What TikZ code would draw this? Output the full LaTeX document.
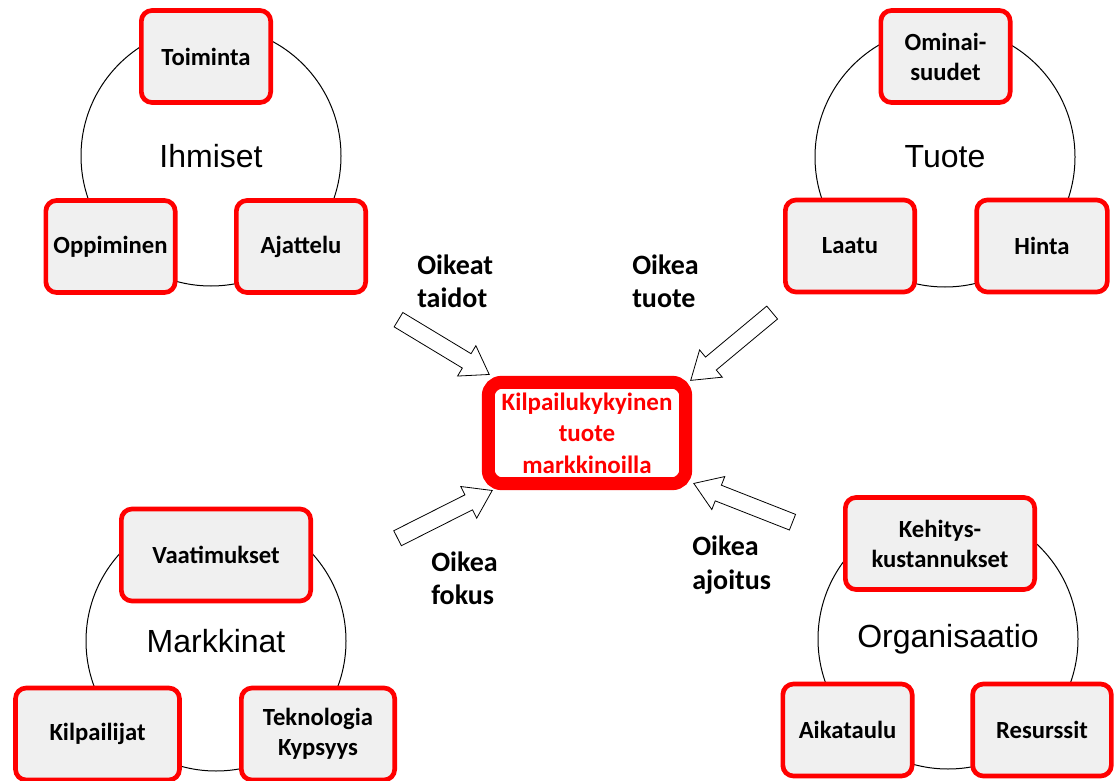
\documentclass[tikz,border=0pt]{standalone}
\usepackage{fontspec}
\setmainfont{Carlito}
\newfontfamily\arialfont{Liberation Sans}
\usetikzlibrary{positioning, shapes.arrows, calc}
\definecolor{boxgray}{HTML}{F0F0F0}

\begin{document}
\begin{tikzpicture}[x=0.75pt, y=-0.75pt,
    box/.style={rectangle, draw=red, line width=3.5pt, fill=boxgray,
                rounded corners=8pt, minimum width=97pt, minimum height=69pt,
                font=\fontsize{18.5}{22.5}\selectfont\bfseries, align=center},
    ring/.style={circle, draw=black, line width=0.75pt, minimum size=195pt,
                 font=\arialfont\fontsize{24}{28}\selectfont},
    hub/.style={rectangle, draw=red, line width=9.75pt, fill=white,
                rounded corners=10pt, minimum width=148pt, minimum height=76pt,
                text=red, font=\fontsize{18.75}{23.7}\selectfont\bfseries, align=center},
    fat/.style={single arrow, draw=black, line width=0.6pt, fill=white,
                inner xsep=0pt, inner ysep=6pt, minimum height=79.5pt,
                single arrow head extend=7pt, single arrow tip angle=68,
                sloped, allow upside down, anchor=tip},
    lbl/.style={font=\fontsize{21}{25}\selectfont\bfseries, align=left,
                anchor=west, inner sep=0pt}
]
\useasboundingbox (0,0) rectangle (1114,781);

% four groups
\node[ring] (ihm)  at (211,156) {Ihmiset};
\node[ring] (tuo)  at (945,157) {Tuote};
\node[ring] (mark) at (216,641) {Markkinat};
\node[ring] (org)  at (948,639) {Organisaatio};

\node[box] (toim) at (206,56.5)  {Toiminta};
\node[box] (opp)  at (110.5,246.5) {Oppiminen};
\node[box] (ajat) at (301,246.5) {Ajattelu};

\node[box] (omin)  at (945.5,56.5) {Ominai-\\suudet};
\node[box] (laatu) at (850,246)    {Laatu};
\node[box, minimum width=98pt] (hinta) at (1042,246) {Hinta};

\node[box, minimum width=142pt] (vaat) at (216,555)   {Vaatimukset};
\node[box, minimum width=123pt] (kilp) at (97.5,734)  {Kilpailijat};
\node[box, minimum width=115pt] (tekn) at (318,734)   {Teknologia\\Kypsyys};

\node[box, minimum width=142pt] (kehi) at (940,543.5) {Kehitys-\\kustannukset};
\node[box] (aika) at (847.5,730) {Aikataulu};
\node[box, minimum width=104pt] (resu) at (1042,730) {Resurssit};

% centre
\node[hub] (hub) at (587,433) {Kilpailukykyinen\\tuote\\markkinoilla};

% block arrows into the centre
\coordinate (t1) at (399,320);
\coordinate (t2) at (771,313.5);
\coordinate (t3) at (397,538.5);
\coordinate (t4) at (792,522);

\path (t1) -- ([shift={(8,-1)}]hub.north west) node[fat, pos=1] (a1) {};
\path (t2) -- ([shift={(-2,5)}]hub.north east) node[fat, pos=1] (a2) {};
\path (t3) -- ([shift={(11,0)}]hub.south west)  node[fat, pos=1] (a3) {};
\path (t4) -- ([shift={(1,-7)}]hub.south east) node[fat, pos=1] (a4) {};

\node[lbl] (taidot)  at (417,281) {Oikeat\\taidot};
\node[lbl] (tuote)   at (632,281) {Oikea\\tuote};
\node[lbl] (fokus)   at (431,578) {Oikea\\fokus};
\node[lbl] (ajoitus) at (692,565) {Oikea\\ajoitus};

\end{tikzpicture}
\end{document}
